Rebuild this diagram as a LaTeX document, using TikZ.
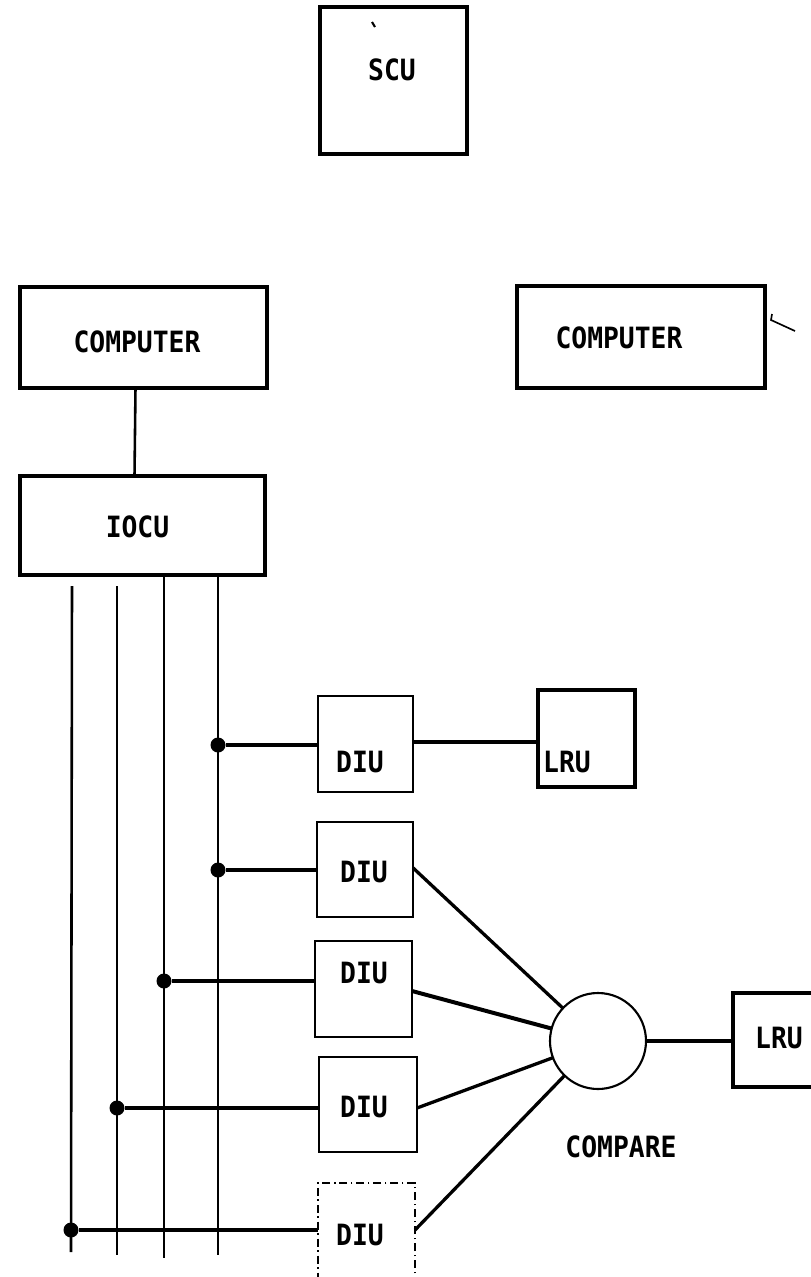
\documentclass[tikz,border=0pt]{standalone}
\usepackage{fontspec}
\newfontfamily\lblfont[FakeStretch=0.9]{DejaVu Sans Mono}
\usetikzlibrary{calc}
\begin{document}
\begin{tikzpicture}[x=0.03cm,y=-0.03cm,
  box/.style={draw,line width=2.6pt,inner sep=0pt,outer sep=0pt},
  diubox/.style={draw,line width=1.9pt,inner sep=0pt,outer sep=0pt},
  lbl/.style={inner sep=0pt,font=\lblfont\bfseries\fontsize{25}{27}\selectfont},
  bus/.style={line width=2.2pt},
  conn/.style={line width=2.8pt},
  dot/.style={circle,fill,inner sep=0pt,minimum size=0.45cm},
]
\clip (0,0) rectangle (811,1277);
\useasboundingbox (0,0) rectangle (811,1277);

% boxes
\node[box,minimum width=4.41cm,minimum height=4.41cm] (scu) at (393.5,80.5) {};
\node[box,minimum width=7.41cm,minimum height=3.03cm] (comp1) at (143.5,337.5) {};
\node[box,minimum width=7.44cm,minimum height=3.06cm] (comp2) at (641,337) {};
\node[box,minimum width=7.35cm,minimum height=2.97cm] (iocu) at (142.5,525.5) {};
\node[diubox,minimum width=2.85cm,minimum height=2.88cm] (diu1) at (365.5,744) {};
\node[box,minimum width=2.91cm,minimum height=2.91cm] (lru1) at (586.5,738.5) {};
\node[diubox,minimum width=2.88cm,minimum height=2.85cm] (diu2) at (365,869.5) {};
\node[diubox,minimum width=2.91cm,minimum height=2.88cm] (diu3) at (363.5,989) {};
\node[diubox,minimum width=2.94cm,minimum height=2.85cm] (diu4) at (368,1104.5) {};
\node[diubox,dash pattern=on 7pt off 3pt on 1.5pt off 3pt,minimum width=2.91cm,minimum height=3.72cm] (diu5) at (366.5,1245) {};
\node[box,minimum width=3.0cm,minimum height=2.82cm] (lru2) at (783,1040) {};
\node[draw,circle,line width=1.8pt,inner sep=0pt,outer sep=0pt,minimum size=2.88cm] (cmp) at (598,1041) {};

% labels
\node[lbl] (tscu) at (392,70) {SCU};
\node[lbl] (tc1) at (137,342) {COMPUTER};
\node[lbl] (tc2) at (619,338) {COMPUTER};
\node[lbl] (tiocu) at (137.5,527) {IOCU};
\node[lbl] (td1) at (360,762) {DIU};
\node[lbl] (tl1) at (567,762) {LRU};
\node[lbl] (td2) at (364,872) {DIU};
\node[lbl] (td3) at (364,973) {DIU};
\node[lbl] (td4) at (364,1107) {DIU};
\node[lbl] (td5) at (360,1235) {DIU};
\node[lbl] (tl2) at (779,1038) {LRU};
\node[lbl] (tcmp) at (621,1147) {COMPARE};

% computer to IOCU
\draw[bus] ([xshift=-0.24cm]comp1.south) -- ([xshift=-0.24cm]iocu.north);

% bus lines
\coordinate (b1t) at (72,586);
\coordinate (b2t) at (117,586);
\coordinate (b3t) at (164,575);
\coordinate (b4t) at (218,575);
\coordinate (b1b) at (71,1252);
\coordinate (b2b) at (117,1255);
\coordinate (b3b) at (164,1258);
\coordinate (b4b) at (218,1255);
\draw[bus] (b1t) -- (b1b);
\draw[bus] (b2t) -- (b2b);
\draw[bus] (b3t) -- (b3b);
\draw[bus] (b4t) -- (b4b);

% junctions
\node[dot] (j1) at (218,745) {};
\node[dot] (j2) at (218,870) {};
\node[dot] (j3) at (164,981) {};
\node[dot] (j4) at (117,1108) {};
\node[dot] (j5) at (71,1230) {};

\draw[line width=3.6pt] (j1) -- (j1 -| diu1.west);
\draw[conn] (j2) -- (j2 -| diu2.west);
\draw[conn] (j3) -- (j3 -| diu3.west);
\draw[conn] (j4) -- (j4 -| diu4.west);
\draw[conn] (j5) -- (j5 -| diu5.west);

% DIU to LRU
\draw[line width=3.2pt] ([yshift=0.06cm]diu1.east) -- ([yshift=0.06cm]diu1.east -| lru1.west);

% DIUs to compare
\draw[conn] ([yshift=0.05cm]diu2.east) -- (cmp);
\draw[line width=3.4pt] ([yshift=-0.06cm]diu3.east) -- (cmp);
\draw[conn] (diu4.east |- j4) -- (cmp);
\draw[conn] (diu5.east |- j5) -- (cmp);
\draw[conn] (cmp.east) -- (cmp.east -| lru2.west);

% small marks
\draw[line width=1.4pt] (772,314) -- (771,320) -- (795,331);
\draw[line width=1.8pt] (372,22) -- (375,27);
\end{tikzpicture}
\end{document}
